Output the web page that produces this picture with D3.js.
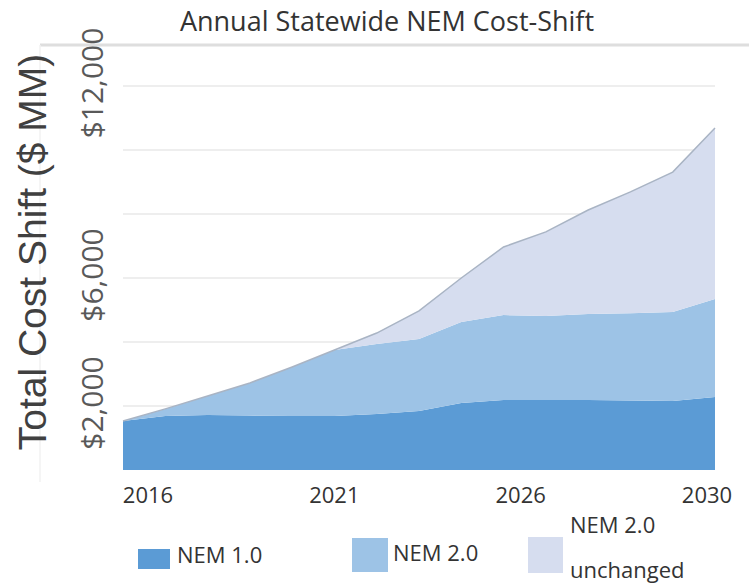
<!DOCTYPE html>
<html>
<head>
<meta charset="utf-8">
<script src="https://cdn.jsdelivr.net/npm/d3@7"></script>
<style>
  html, body { margin: 0; padding: 0; background: #ffffff; }
  svg { display: block; }
</style>
</head>
<body>
<svg id="chart" width="749" height="588"></svg>
<script>
// Annual statewide NEM cost-shift, $ MM per year
const years = [2016, 2017, 2018, 2019, 2020, 2021, 2022, 2023, 2024, 2025, 2026, 2027, 2028, 2029, 2030];
const nem1 = [1530, 1690, 1720, 1700, 1690, 1690, 1750, 1840, 2090, 2190, 2190, 2190, 2170, 2160, 2280];
const nem2 = [0, 220, 590, 1020, 1530, 2060, 2190, 2250, 2535, 2650, 2620, 2685, 2730, 2780, 3060];
const nem2Unchanged = [0, 0, 0, 0, 0, 0, 340, 880, 1375, 2130, 2630, 3250, 3790, 4370, 5350];

const seriesKeys = ["NEM 1.0", "NEM 2.0", "NEM 2.0 unchanged"];
const seriesColors = ["#5b9bd5", "#9dc3e6", "#d6ddef"];

const gridValues = [2000, 4000, 6000, 8000, 10000, 12000];
const yTickValues = [2000, 6000, 12000];
const yTickLabels = ["$2,000", "$6,000", "$12,000"];
const xTickLabels = ["2016", "2021", "2026", "2030"];

const chartTitle = "Annual Statewide NEM Cost-Shift";
const yAxisTitle = "Total Cost Shift ($ MM)";

const rows = years.map((yr, i) => ({
  year: yr,
  "NEM 1.0": nem1[i],
  "NEM 2.0": nem2[i],
  "NEM 2.0 unchanged": nem2Unchanged[i]
}));

const svg = d3.select("#chart");

const x = d3.scaleLinear().domain([2016, 2030]).range([123, 715]);
const y = d3.scaleLinear().domain([0, 12000]).range([470, 86]);
const color = d3.scaleOrdinal().domain(seriesKeys).range(seriesColors);

// chart frame: top rule and faint left edge
svg.append("line")
  .attr("x1", 40).attr("x2", 749).attr("y1", 45).attr("y2", 45)
  .attr("stroke", "#dedede").attr("stroke-width", 3);
svg.append("line")
  .attr("x1", 40).attr("x2", 40).attr("y1", 45).attr("y2", 482)
  .attr("stroke", "#f2f2f2").attr("stroke-width", 1.5);

// horizontal gridlines
svg.append("g")
  .selectAll("line")
  .data(gridValues)
  .join("line")
  .attr("x1", x.range()[0]).attr("x2", x.range()[1])
  .attr("y1", d => y(d)).attr("y2", d => y(d))
  .attr("stroke", "#e8e8e8").attr("stroke-width", 1.5);

// stacked areas
const stacked = d3.stack().keys(seriesKeys)(rows);
const area = d3.area()
  .x(d => x(d.data.year))
  .y0(d => y(d[0]))
  .y1(d => y(d[1]))
  .curve(d3.curveLinear);

svg.append("g")
  .selectAll("path")
  .data(stacked)
  .join("path")
  .attr("d", area)
  .attr("fill", d => color(d.key));

// outline along the top of the stack
const topLine = d3.line()
  .x(d => x(d.data.year))
  .y(d => y(d[1]))
  .curve(d3.curveLinear);
svg.append("path")
  .datum(stacked[stacked.length - 1])
  .attr("d", topLine)
  .attr("fill", "none")
  .attr("stroke", "#a9b4c4")
  .attr("stroke-width", 1.5);

// y tick labels, rotated
svg.append("g")
  .selectAll("text")
  .data(yTickValues)
  .join("text")
  .attr("transform", d => `translate(103,${y(d) - 3}) rotate(-90)`)
  .attr("text-anchor", "middle")
  .attr("font-family", "'Open Sans', sans-serif")
  .attr("font-size", 30)
  .attr("fill", "#595959")
  .text((d, i) => yTickLabels[i]);

// y axis title
svg.append("text")
  .attr("transform", "translate(46,252) rotate(-90)")
  .attr("text-anchor", "middle")
  .attr("font-family", "'Liberation Sans', Arial, sans-serif")
  .attr("font-size", 39)
  .attr("fill", "#404040")
  .text(yAxisTitle);

// x tick labels
const xLabelPos = d3.scalePoint().domain(xTickLabels).range([148, 707]);
svg.append("g")
  .selectAll("text")
  .data(xTickLabels)
  .join("text")
  .attr("x", d => xLabelPos(d))
  .attr("y", 503)
  .attr("text-anchor", "middle")
  .attr("font-family", "'Open Sans', sans-serif")
  .attr("font-size", 22)
  .attr("font-weight", 500)
  .attr("fill", "#333333")
  .text(d => d);

// title
svg.append("text")
  .attr("x", 387).attr("y", 31)
  .attr("text-anchor", "middle")
  .attr("font-family", "'Open Sans', sans-serif")
  .attr("font-size", 27)
  .attr("font-weight", 500)
  .attr("fill", "#333333")
  .text(chartTitle);

// legend
const legendItems = [
  { key: "NEM 1.0", lines: ["NEM 1.0"], sx: 138, sy: 549, sw: 32, sh: 20, tx: 177, ty: [563] },
  { key: "NEM 2.0", lines: ["NEM 2.0"], sx: 352, sy: 538, sw: 36, sh: 34, tx: 393, ty: [561] },
  { key: "NEM 2.0 unchanged", lines: ["NEM 2.0", "unchanged"], sx: 528, sy: 537, sw: 35, sh: 36, tx: 570, ty: [533, 578] }
];
const leg = svg.append("g")
  .selectAll("g")
  .data(legendItems)
  .join("g");
leg.append("rect")
  .attr("x", d => d.sx).attr("y", d => d.sy)
  .attr("width", d => d.sw).attr("height", d => d.sh)
  .attr("fill", d => color(d.key));
leg.each(function(d) {
  d3.select(this).selectAll("text")
    .data(d.lines)
    .join("text")
    .attr("x", d.tx)
    .attr("y", (t, i) => d.ty[i])
    .attr("font-family", "'Open Sans', sans-serif")
    .attr("font-size", 22)
    .attr("font-weight", 500)
    .attr("fill", "#333333")
    .text(t => t);
});
</script>
</body>
</html>
